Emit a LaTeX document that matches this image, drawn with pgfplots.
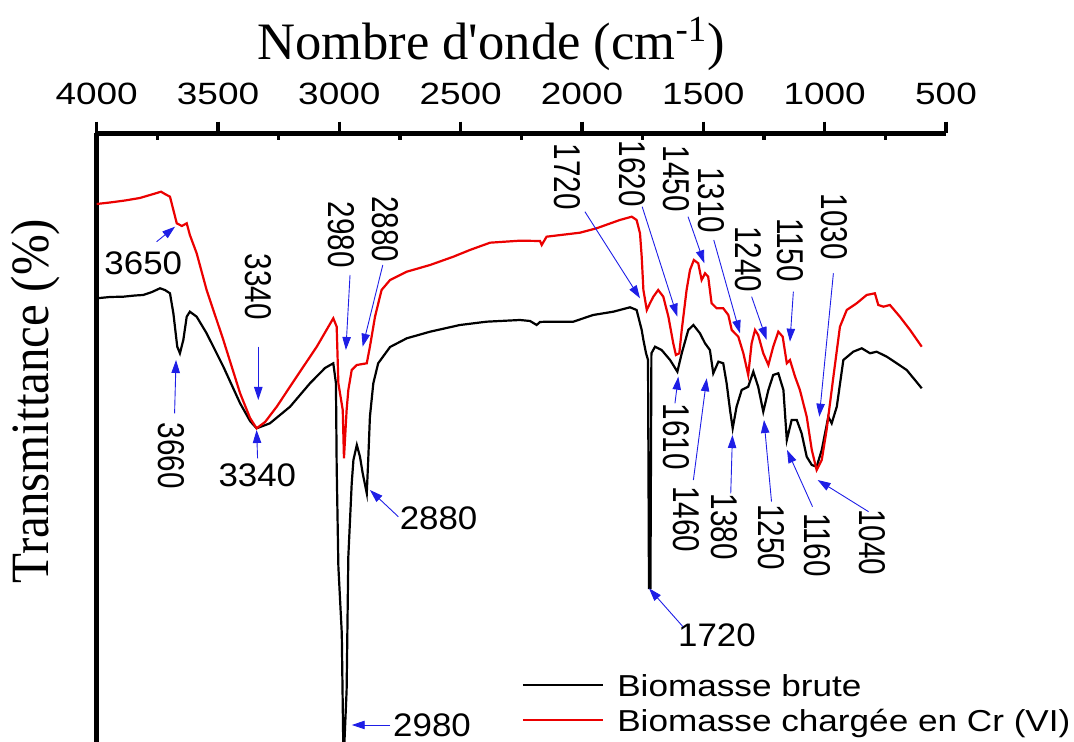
\documentclass[border=0pt]{standalone}
\usepackage{fontspec}
\setmainfont{Liberation Sans}
\newfontfamily\serifont{Liberation Serif}
\usepackage{pgfplots}
\pgfplotsset{compat=1.18}
\usetikzlibrary{arrows.meta}
\definecolor{specred}{RGB}{235,0,0}
\definecolor{arrblue}{RGB}{30,30,230}
\newcommand{\annfont}{\fontsize{16.3}{19}\selectfont}
\newcommand{\hlab}[3]{\node[inner sep=0pt, font=\annfont] at (axis cs:#1,#2) {\scalebox{1.07}[1]{#3}};}
\newcommand{\rlab}[3]{\node[inner sep=0pt, font=\annfont, rotate=-90] at (axis cs:#1,#2) {\scalebox{0.91}[1.144]{#3}};}
\newcommand{\arr}[4]{\draw[arrblue, line width=0.45pt, -{Triangle[length=6.5pt,width=4.2pt]}] (axis cs:#1,#2) -- (axis cs:#3,#4);}
\begin{document}
\begin{tikzpicture}
\begin{axis}[
  at={(48.35pt,0pt)}, anchor=south west,
  width=424.65pt, height=304.35pt, scale only axis,
  xmin=500, xmax=4000, x dir=reverse,
  ymin=0, ymax=608.7,
  axis x line*=top, axis y line*=left,
  ytick=\empty,
  xtick={500,1000,1500,2000,2500,3000,3500,4000},
  extra x ticks={750,1250,1750,2250,2750,3250,3750},
  extra x tick labels={},
  extra x tick style={major tick length=-3.2pt},
  tick align=outside,
  major tick length=5.85pt,
  tick style={black, line width=1.7pt},
  axis line style={line width=2.3pt},
  /pgf/number format/assume math mode=true,
  /pgf/number format/1000 sep={},
  xticklabel={\scalebox{1.2}[1]{\pgfmathprintnumber{\tick}}},
  xticklabel style={font=\fontsize{15.4}{18}\selectfont, anchor=base, yshift=8.3pt},
  clip=false,
  title={Nombre d\textquotesingle onde (cm\textsuperscript{-1})},
  title style={at={(axis description cs:0.4643,1.1007)}, anchor=base, font=\serifont\fontsize{26.3}{30}\selectfont},
  ylabel={\scalebox{1}[1.1]{Transmittance (\%)}},
  ylabel style={at={(axis description cs:-0.0571,0.5602)}, anchor=base, font=\serifont\fontsize{24.5}{28}\selectfont},
  legend style={draw=none, fill=none, at={(axis description cs:0.5004,0.0095)}, anchor=south west,
    inner sep=0pt, outer sep=0pt, font=\fontsize{15.15}{18}\selectfont,
    nodes={inner sep=0pt, text height=11pt, text depth=2.25pt}, row sep=4.25pt, /tikz/column sep=6.7pt},
  legend cell align=left,
  legend image code/.code={\draw[#1, line width=1.1pt] (0pt,1.5pt) -- (40pt,1.5pt);},
]
\addplot[black, line width=1.1pt] coordinates {
(4000,443.7) (3945,445) (3890,445.3) (3842,446.5) (3808,447) (3772,450) (3739,453.7) (3719,452)
(3698,448.7) (3684,428.7) (3668,395.3) (3657,388.7) (3643,402) (3629,425.3) (3616,430.3) (3588,425.3)
(3547,408.7) (3478,375.3) (3409,338.7) (3368,321) (3341,313.7) (3286,318.7) (3203,335.3) (3121,358.7)
(3059,374) (3025,378.7) (3014,358.7) (3011,275.3) (3004,175.3) (2990,109) (2984,0) (2979,0)
(2970,52) (2963,185.3) (2949,258.7) (2942,282) (2928,297) (2915,285.3) (2904,269) (2887,248.7)
(2881,282) (2874,325.3) (2860,358.7) (2840,378.7) (2791,395) (2722,403.7) (2626,410.3) (2503,417)
(2393,420.3) (2256,422) (2214,421) (2187,417) (2173,420) (2146,420.3) (2036,420.3) (1954,427)
(1871,430.3) (1802,434.7) (1775,432) (1754,412) (1747,402) (1736,388.7) (1728,382) (1724,154)
(1718,154) (1714,388.7) (1699,395.3) (1672,392) (1637,382) (1607,370.3) (1589,388.7) (1562,412)
(1541,417) (1514,408.7) (1493,398.7) (1473,392) (1459,368.7) (1438,380.3) (1418,378.7) (1404,358.7)
(1390,332) (1379,313.7) (1363,335.3) (1342,352) (1315,355.3) (1294,370.3) (1274,355.3) (1253,330.3)
(1232,352) (1212,367) (1191,368.7) (1170,352) (1156,302) (1136,322) (1115,322) (1095,308.7)
(1074,285.3) (1053,277) (1033,275.3) (1012,292) (985,325.3) (971,318.7) (950,335.3) (923,382)
(882,390.3) (847,393.7) (813,388.7) (786,390.3) (744,385.3) (703,378.7) (662,372) (628,362) (600,353.7)
};
\addlegendentry{\scalebox{1.16}[1]{Biomasse brute}}
\addplot[specred, line width=1.1pt] coordinates {
(4000,538) (3945,539.5) (3883,541.5) (3822,544) (3780,547) (3752,549) (3735,550.3) (3719,548)
(3698,545.3) (3670,518.7) (3649,516) (3629,518.7) (3616,507) (3588,488.7) (3547,452) (3478,402)
(3409,348.7) (3368,324) (3341,313.7) (3306,320) (3258,335.3) (3176,365.3) (3093,395.3) (3025,423.7)
(3011,415.3) (3004,358.7) (2986,332) (2981,283.7) (2970,332) (2963,352) (2949,372) (2928,377)
(2887,378.7) (2874,395.3) (2853,425.3) (2826,452) (2791,462) (2722,470.3) (2626,477) (2530,485.3)
(2462,492) (2379,499.3) (2256,501.3) (2173,501) (2166,497) (2146,505.3) (2008,509.3) (1940,513.7)
(1844,522) (1795,525.3) (1775,522) (1761,508.7) (1754,485.3) (1747,452) (1733,432) (1720,438.7)
(1706,445.3) (1686,452) (1665,445.3) (1644,425.3) (1624,398.7) (1613,387) (1599,388.7) (1589,412)
(1569,452) (1555,472) (1539,482) (1521,478.7) (1507,462) (1493,468.7) (1480,465.3) (1466,438.7)
(1445,433.7) (1418,433.7) (1397,427) (1383,412) (1356,405.3) (1335,388.7) (1315,367) (1301,398.7)
(1287,412) (1274,407) (1253,388.7) (1232,377) (1212,395.3) (1191,410.3) (1173,405.3) (1156,378.7)
(1143,382) (1122,365.3) (1102,352) (1074,325.3) (1053,292) (1033,272) (1012,282) (992,312)
(964,365.3) (937,415.3) (909,432) (868,438.7) (827,447) (793,448.7) (779,437) (758,435.3)
(731,437) (690,425.3) (648,412) (600,395.3)
};
\addlegendentry{\scalebox{1.16}[1]{Biomasse chargée en Cr (VI)}}
% annotations
\hlab{3808}{478.7}{3650}
\rlab{3334}{455.3}{3340}
\rlab{2990}{507}{2980}
\rlab{2809}{512.8}{2880}
\rlab{2062}{565}{1720}
\rlab{1794}{568}{1620}
\rlab{1613}{563}{1450}
\rlab{1466}{541.5}{1310}
\rlab{1315}{482.8}{1240}
\rlab{1143}{492}{1150}
\rlab{962}{515.3}{1030}
\rlab{3693}{286.2}{3660}
\hlab{3338}{267}{3340}
\hlab{2591}{224}{2880}
\hlab{2618}{17}{2980}
\rlab{1612}{305.3}{1610}
\rlab{1570}{222.8}{1460}
\rlab{1415}{215.3}{1380}
\rlab{1219}{204.5}{1250}
\rlab{1029}{197}{1160}
\rlab{805}{199.5}{1040}
\hlab{1444}{107}{1720}
\arr{3753}{500.3}{3677}{515.3}
\arr{3334}{395.3}{3334}{342}
\arr{2956}{467}{2973}{392}
\arr{2821}{477}{2904}{395.3}
\arr{1988}{530.3}{1761}{443.7}
\arr{1752}{535.3}{1607}{425.3}
\arr{1563}{525.3}{1496}{478.7}
\arr{1457}{502}{1349}{408.7}
\arr{1301}{445.3}{1239}{402}
\arr{1129}{450.3}{1143}{400.3}
\arr{964}{468.7}{1022}{325.3}
\arr{3679}{328.7}{3673}{382}
\arr{3337}{283.7}{3341}{312}
\arr{2757}{225.3}{2874}{252}
\arr{2791}{17}{2949}{17}
\arr{1617}{338.7}{1603}{365.3}
\arr{1541}{262}{1486}{363.7}
\arr{1387}{248.7}{1380}{307}
\arr{1219}{240.3}{1250}{322}
\arr{1050}{235.3}{1155}{292}
\arr{819}{230.3}{1029}{262}
\arr{1584}{115.3}{1724}{153.7}
\end{axis}
\pgfresetboundingbox
\path[use as bounding box] (0,0) rectangle (537pt,371pt);
\end{tikzpicture}
\end{document}
